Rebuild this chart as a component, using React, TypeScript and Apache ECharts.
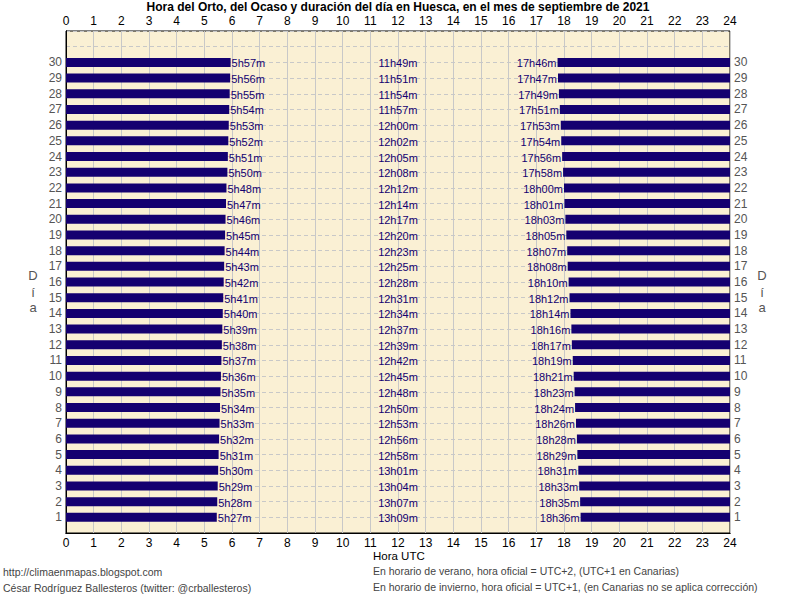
import React, { useEffect, useRef } from "react";
import * as echarts from "echarts";

const days = [1, 2, 3, 4, 5, 6, 7, 8, 9, 10, 11, 12, 13, 14, 15, 16, 17, 18, 19, 20, 21, 22, 23, 24, 25, 26, 27, 28, 29, 30];
const sunrise = ["5h27m", "5h28m", "5h29m", "5h30m", "5h31m", "5h32m", "5h33m", "5h34m", "5h35m", "5h36m", "5h37m", "5h38m", "5h39m", "5h40m", "5h41m", "5h42m", "5h43m", "5h44m", "5h45m", "5h46m", "5h47m", "5h48m", "5h50m", "5h51m", "5h52m", "5h53m", "5h54m", "5h55m", "5h56m", "5h57m"];
const dayLength = ["13h09m", "13h07m", "13h04m", "13h01m", "12h58m", "12h56m", "12h53m", "12h50m", "12h48m", "12h45m", "12h42m", "12h39m", "12h37m", "12h34m", "12h31m", "12h28m", "12h25m", "12h23m", "12h20m", "12h17m", "12h14m", "12h12m", "12h08m", "12h05m", "12h02m", "12h00m", "11h57m", "11h54m", "11h51m", "11h49m"];
const sunset = ["18h36m", "18h35m", "18h33m", "18h31m", "18h29m", "18h28m", "18h26m", "18h24m", "18h23m", "18h21m", "18h19m", "18h17m", "18h16m", "18h14m", "18h12m", "18h10m", "18h08m", "18h07m", "18h05m", "18h03m", "18h01m", "18h00m", "17h58m", "17h56m", "17h54m", "17h53m", "17h51m", "17h49m", "17h47m", "17h46m"];
const hourTicks = [0, 24];
const dayRange = [0, 32];

const toHours = (s: string) => {
  const m = s.match(/(\d+)h(\d+)m/);
  return m ? Number(m[1]) + Number(m[2]) / 60 : 0;
};

const FONT = "Liberation Sans";
const NAVY = "#140070";

export default function App() {
  const ref = useRef<HTMLDivElement>(null);
  useEffect(() => {
    if (!ref.current) return;
    const chart = echarts.init(ref.current, undefined, { renderer: "svg" });
    const data = days.map((d, i) => [d, toHours(sunrise[i]), toHours(sunset[i]), i]);
    const axisLabelX = { color: "#000", fontFamily: FONT, fontSize: 12, lineHeight: 11 };
    const axisLabelY = {
      color: "#555",
      fontFamily: FONT,
      fontSize: 12,
      margin: 4,
      formatter: (v: number) => (v >= 1 && v <= 30 ? String(v) : ""),
    };
    const xBase = {
      type: "value",
      min: hourTicks[0],
      max: hourTicks[1],
      interval: 1,
      axisLine: { show: true, lineStyle: { color: "#000", width: 1 } },
      axisTick: { show: false },
    };
    const yBase = {
      type: "value",
      min: dayRange[0],
      max: dayRange[1],
      interval: 1,
      axisLine: { show: true, lineStyle: { color: "#000", width: 1 } },
      axisTick: { show: false },
      axisLabel: axisLabelY,
    };
    const foot = { fontFamily: FONT, fontSize: 10.5, fill: "#444" };
    chart.setOption({
      animation: false,
      backgroundColor: "#fff",
      title: {
        text: "Hora del Orto, del Ocaso y duración del día en Huesca, en el mes de septiembre de 2021",
        left: "center",
        top: 1,
        padding: 0,
        textStyle: { fontFamily: FONT, fontSize: 12, lineHeight: 12, fontWeight: "bold", color: "#000" },
      },
      grid: { left: 66, right: 66, top: 31, bottom: 63, backgroundColor: "#FAF0D4", show: true, borderColor: "#000", borderWidth: 1 },
      xAxis: [
        { ...xBase, position: "bottom", axisLabel: { ...axisLabelX, margin: 4 }, splitLine: { show: true, lineStyle: { color: "#c8c8c8", width: 1 } } },
        { ...xBase, position: "top", axisLabel: { ...axisLabelX, margin: 5 }, splitLine: { show: false } },
      ],
      yAxis: [
        { ...yBase, position: "left", splitLine: { show: true, lineStyle: { color: "#c8c8c8", type: [4, 3], width: 1 } } },
        { ...yBase, position: "right", splitLine: { show: false } },
      ],
      series: [
        {
          type: "custom",
          xAxisIndex: 0,
          yAxisIndex: 0,
          data,
          encode: { x: [1, 2], y: 0 },
          renderItem: (params: any, api: any) => {
            const d = api.value(0);
            const sr = api.value(1);
            const ss = api.value(2);
            const i = api.value(3);
            const p0 = api.coord([0, d]);
            const p1 = api.coord([sr, d]);
            const p2 = api.coord([ss, d]);
            const p3 = api.coord([24, d]);
            const pm = api.coord([12, d]);
            const h = 9;
            const ts = { fontFamily: FONT, fontSize: 11, fill: NAVY, verticalAlign: "middle" };
            return {
              type: "group",
              children: [
                { type: "rect", shape: { x: p0[0], y: p0[1] - h / 2, width: p1[0] - p0[0], height: h }, style: { fill: NAVY } },
                { type: "rect", shape: { x: p2[0], y: p2[1] - h / 2, width: p3[0] - p2[0], height: h }, style: { fill: NAVY } },
                { type: "text", x: p1[0] + 1, y: p1[1] + 1, style: { ...ts, text: sunrise[i], align: "left" } },
                { type: "text", x: pm[0], y: pm[1] + 1, style: { ...ts, text: dayLength[i], align: "center" } },
                { type: "text", x: p2[0] - 1, y: p2[1] + 1, style: { ...ts, text: sunset[i], align: "right" } },
              ],
            };
          },
        },
      ],
      graphic: [
        { type: "text", left: 373, top: 550, style: { text: "Hora UTC", fontFamily: FONT, fontSize: 11.5, fill: "#000" } },
        { type: "text", left: 3, top: 566, style: { text: "http://climaenmapas.blogspot.com", ...foot } },
        { type: "text", left: 3, top: 582, style: { text: "César Rodríguez Ballesteros (twitter: @crballesteros)", ...foot } },
        { type: "text", left: 373, top: 565, style: { text: "En horario de verano, hora oficial = UTC+2, (UTC+1 en Canarias)", ...foot } },
        { type: "text", left: 373, top: 581, style: { text: "En horario de invierno, hora oficial = UTC+1, (en Canarias no se aplica corrección)", ...foot } },
        ...[["D", 275], ["í", 292], ["a", 307]].flatMap(([t, y]) => [
          { type: "text", x: 33, y: y as number, style: { text: t as string, fontFamily: FONT, fontSize: 13, fill: "#555", align: "center", verticalAlign: "middle" } },
          { type: "text", x: 762, y: y as number, style: { text: t as string, fontFamily: FONT, fontSize: 13, fill: "#555", align: "center", verticalAlign: "middle" } },
        ]),
      ],
    });
    return () => chart.dispose();
  }, []);
  return <div ref={ref} style={{ position: "fixed", left: 0, top: 0, width: 796, height: 596 }} />;
}
